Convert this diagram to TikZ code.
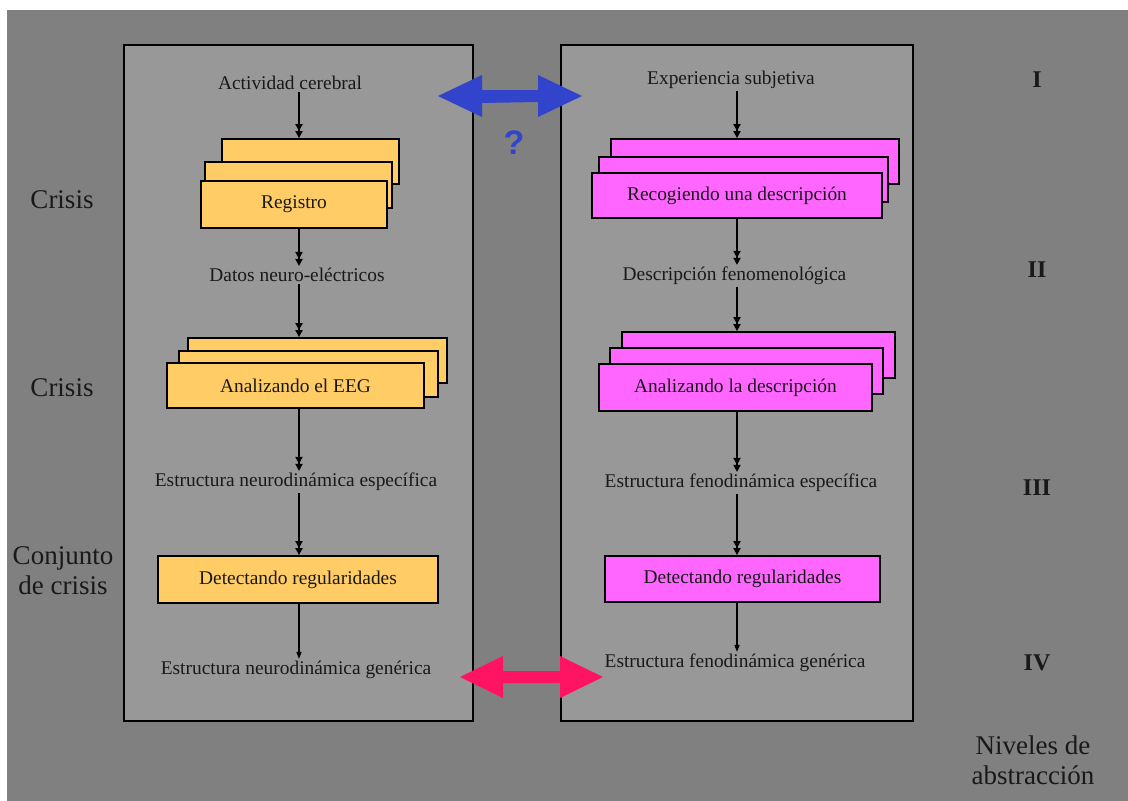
\documentclass[tikz,border=0pt]{standalone}
\usepackage{fontspec}
\setmainfont{Liberation Serif}
\newfontfamily\qfont{Liberation Sans}
\usetikzlibrary{arrows.meta,calc}
\definecolor{bgray}{RGB}{128,128,128}
\definecolor{pgray}{RGB}{152,152,152}
\definecolor{orng}{RGB}{255,204,102}
\definecolor{mgnt}{RGB}{255,102,255}
\definecolor{txt}{RGB}{25,25,25}
\definecolor{blu}{RGB}{51,68,204}
\definecolor{pnk}{RGB}{255,20,100}
\tikzset{
  panel/.style={draw=black, line width=1.5pt, fill=pgray},
  lbl/.style={text=txt, font=\fontsize{19.4}{22}\selectfont, inner sep=2pt},
  side/.style={text=txt, font=\fontsize{27}{30}\selectfont, align=center, inner sep=0pt},
  lvl/.style={text=txt, font=\fontsize{24}{26}\selectfont\bfseries, inner sep=0pt},
  obox/.style={draw=black, line width=1.8pt, fill=orng, inner sep=0pt, text=txt, font=\fontsize{19.4}{22}\selectfont},
  mbox/.style={draw=black, line width=1.8pt, fill=mgnt, inner sep=0pt, text=txt, font=\fontsize{19.4}{22}\selectfont},
  varrow/.style={line width=1.8pt, -{Triangle[length=7pt,width=7pt]Triangle[length=7pt,width=7pt]}},
  sarrow/.style={line width=1.2pt, -{Triangle[length=7pt,width=5pt]}},
}
\begin{document}
\begin{tikzpicture}[x=1pt,y=-1pt]
\useasboundingbox (0,0) rectangle (1128,801);
\fill[white] (0,0) rectangle (1128,801);
\fill[bgray] (7,10) rectangle (1128,801);
% panels
\node[panel, minimum width=349, minimum height=676, inner sep=0pt] (lp) at (298.5,383) {};
\node[panel, minimum width=352, minimum height=676, inner sep=0pt] (rp) at (737,383) {};
\coordinate (L) at (299,0);
\coordinate (R) at (737,0);
% left column
\node[lbl] (act) at (290,83) {Actividad cerebral};
\node[obox, minimum width=177, minimum height=45] (regB) at (310.5,161.5) {};
\node[obox, minimum width=187, minimum height=46] (regM) at (298.5,185) {};
\node[obox, minimum width=186, minimum height=47] (regF) at (294,204.5) {Registro};
\node[lbl] (datos) at (297,275) {Datos neuro-eléctricos};
\node[obox, minimum width=259, minimum height=45] (eegB) at (317.5,360.5) {};
\node[obox, minimum width=259, minimum height=46] (eegM) at (308.5,374) {};
\node[obox, minimum width=257, minimum height=45] (eegF) at (295.5,385.5) {Analizando el EEG};
\node[lbl] (estL) at (296,482) {Estructura neurodinámica específica};
\node[obox, minimum width=280, minimum height=47] (detL) at (298,579.5) {Detectando regularidades};
\node[lbl] (genL) at (296,670) {Estructura neurodinámica genérica};
\draw[varrow] (act.south -| L) -- (regB.north -| L);
\draw[varrow] (regF.south -| L) -- (datos.north -| L);
\draw[varrow] (datos.south -| L) -- (eegB.north -| L);
\draw[varrow] (eegF.south -| L) -- (estL.north -| L);
\draw[varrow] (estL.south -| L) -- (detL.north -| L);
\draw[sarrow] (detL.south -| L) -- (genL.north -| L);
% right column
\node[lbl] (exp) at (731,80) {Experiencia subjetiva};
\node[mbox, minimum width=288, minimum height=45] (recB) at (755,161.5) {};
\node[mbox, minimum width=289, minimum height=45] (recM) at (743.5,179.5) {};
\node[mbox, minimum width=290, minimum height=45] (recF) at (737,195.5) {Recogiendo una descripción};
\node[lbl] (desc) at (734.5,276) {Descripción fenomenológica};
\node[mbox, minimum width=273, minimum height=46] (anaB) at (758.5,355) {};
\node[mbox, minimum width=273, minimum height=46] (anaM) at (746.5,371) {};
\node[mbox, minimum width=273, minimum height=47] (anaF) at (735.5,387.5) {Analizando la descripción};
\node[lbl] (estR) at (741,483) {Estructura fenodinámica específica};
\node[mbox, minimum width=275, minimum height=46] (detR) at (742.5,579) {Detectando regularidades};
\node[lbl] (genR) at (735,663) {Estructura fenodinámica genérica};
\draw[varrow] (exp.south -| R) -- (recB.north -| R);
\draw[varrow] (recF.south -| R) -- (desc.north -| R);
\draw[varrow] (desc.south -| R) -- (anaB.north -| R);
\draw[varrow] (anaF.south -| R) -- (estR.north -| R);
\draw[varrow] (estR.south -| R) -- (detR.north -| R);
\draw[sarrow] (detR.south -| R) -- (genR.north -| R);
% side labels
\node[side] (c1) at (62,200) {Crisis};
\node[side] (c2) at (62,388) {Crisis};
\node[side] (c3) at (63,571) {Conjunto\\de crisis};
% levels
\node[lvl] (l1) at (1037,80) {I};
\node[lvl] (l2) at (1037,270) {II};
\node[lvl] (l3) at (1037,488) {III};
\node[lvl] (l4) at (1037,663) {IV};
\node[side] (niv) at (1033,760) {Niveles de\\abstracción};
% blue double arrow
\coordinate (bl) at (438,96);
\coordinate (br) at (582,96);
\fill[blu] (bl) -- ++(44,-21) -- ++(0,15) -- ($(br)+(-44,-6)$) -- ++(0,-15) -- (br) -- ++(-44,21) -- ++(0,-15) -- ($(bl)+(44,7)$) -- ++(0,14) -- cycle;
\node[text=blu, font=\qfont\fontsize{34}{36}\selectfont\bfseries, inner sep=0pt] (q) at (514,143) {?};
% pink double arrow
\coordinate (pl) at (460,677);
\coordinate (pr) at (603,677);
\fill[pnk] (pl) -- ++(43,-21) -- ++(0,15) -- ($(pr)+(-43,-6)$) -- ++(0,-15) -- (pr) -- ++(-43,21) -- ++(0,-15) -- ($(pl)+(43,6)$) -- ++(0,15) -- cycle;
\end{tikzpicture}
\end{document}
